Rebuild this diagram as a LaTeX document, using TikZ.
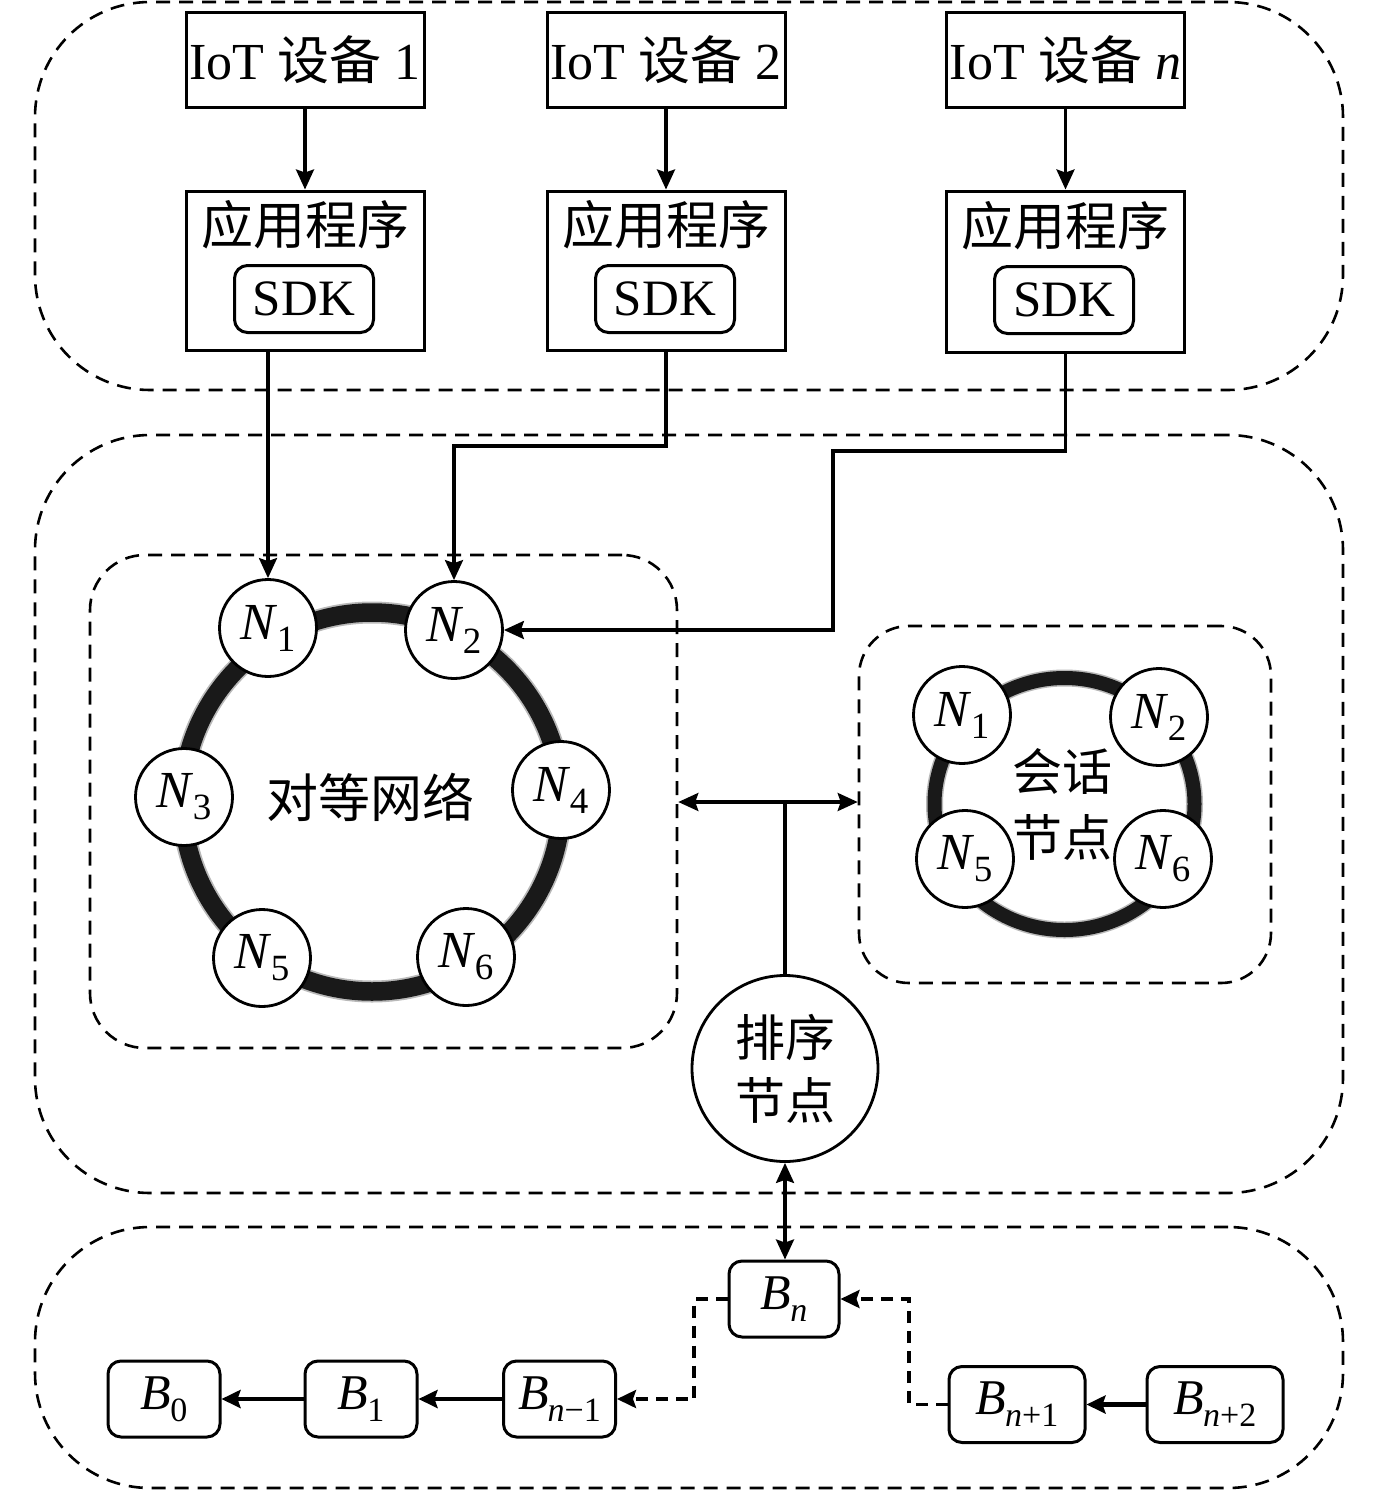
\documentclass[tikz,border=0pt]{standalone}
\usepackage{fontspec}
\setmainfont{Liberation Serif}
\newfontfamily\cjk{Noto Sans CJK SC}
\usetikzlibrary{arrows.meta}
\newcommand\zh[1]{{\cjk #1}}
\newcommand\subx[1]{\kern-1pt\raisebox{-12pt}{\fontsize{37}{37}\selectfont #1}}
\newcommand\subb[1]{\kern-1pt\raisebox{-12pt}{\fontsize{34}{34}\selectfont #1}}
\newcommand\Nx[1]{\textit{N}\subx{#1}}
\newcommand\Bx[1]{\textit{B}\subb{#1}}
\begin{document}
\begin{tikzpicture}[x=1pt,y=-1pt,
  font=\fontsize{52}{60}\selectfont,
  region/.style={draw, line width=2.6pt, dash pattern=on 14pt off 9pt, rounded corners=115pt, inner sep=0pt},
  subregion/.style={draw, line width=2.6pt, dash pattern=on 14pt off 9pt, inner sep=0pt},
  iotbox/.style={draw, line width=3pt, inner sep=0pt, minimum width=238pt, minimum height=95pt},
  appbox/.style={draw, line width=3pt, inner sep=0pt, minimum width=238pt, minimum height=159pt},
  sdkbox/.style={draw, line width=3pt, rounded corners=13pt, inner sep=0pt, minimum width=139pt, minimum height=67pt, font=\fontsize{51}{60}\selectfont},
  peer/.style={draw, line width=2.8pt, fill=white, circle, inner sep=0pt, minimum size=97pt},
  blk/.style={draw, line width=3pt, rounded corners=13pt, fill=white, inner sep=0pt, minimum height=76pt, font=\fontsize{50}{60}\selectfont},
  arr/.style={line width=3.2pt, -{Stealth[length=20pt,width=18pt,inset=3pt]}},
  darr/.style={line width=3.2pt, {Stealth[length=20pt,width=18pt,inset=3pt]}-{Stealth[length=20pt,width=18pt,inset=3pt]}},
  barr/.style={line width=4.5pt, -{Stealth[length=19pt,width=18pt,inset=3pt]}},
  dbarr/.style={line width=3.5pt, dash pattern=on 12pt off 8pt, -{Stealth[length=19pt,width=18pt,inset=3pt]}}
]
\useasboundingbox (0,0) rectangle (1378,1491);

% regions
\node[region, minimum width=1308pt, minimum height=388pt] (topreg) at (689,196) {};
\node[region, minimum width=1308pt, minimum height=758pt] (midreg) at (689,814) {};
\node[region, minimum width=1308pt, minimum height=261pt] (botreg) at (689,1357.5) {};
\node[subregion, rounded corners=55pt, minimum width=587pt, minimum height=493pt] (peerreg) at (383.5,801.5) {};
\node[subregion, rounded corners=50pt, minimum width=412pt, minimum height=357pt] (sessreg) at (1065,804.5) {};

% IoT devices
\node[iotbox] (iot1) at (305,59.5) {IoT \zh{设备} 1};
\node[iotbox] (iot2) at (666,59.5) {IoT \zh{设备} 2};
\node[iotbox] (iotn) at (1065.5,59.5) {IoT \zh{设备} \textit{n}};

% applications
\node[appbox] (app1) at (305,270.5) {};
\node[appbox] (app2) at (666,270.5) {};
\node[appbox, minimum height=161pt] (appn) at (1065.5,271.5) {};
\node (app1t) at (305,225) {\zh{应用程序}};
\node (app2t) at (666,225) {\zh{应用程序}};
\node (appnt) at (1065.5,226) {\zh{应用程序}};
\node[sdkbox] (sdk1) at (304,299) {SDK};
\node[sdkbox] (sdk2) at (665,299) {SDK};
\node[sdkbox] (sdkn) at (1064,300) {SDK};

\draw[arr] (iot1.south) -- (app1.north);
\draw[arr] (iot2.south) -- (app2.north);
\draw[arr] (iotn.south) -- (appn.north);

% peer ring
\draw[line width=22pt, gray!55] (372,802) circle[radius=189.5];
\draw[line width=18.5pt, black!90] (372,802) circle[radius=189.5];
\node (peerlabel) at (370,797) {\zh{对等网络}};
\node[peer] (n1) at (268,628) {\Nx{1}};
\node[peer] (n2) at (454,630) {\Nx{2}};
\node[peer] (n3) at (184,797) {\Nx{3}};
\node[peer] (n4) at (561,790) {\Nx{4}};
\node[peer] (n5) at (262,958) {\Nx{5}};
\node[peer] (n6) at (466,957) {\Nx{6}};

% session ring
\draw[line width=17pt, gray!55] (1064.5,804) ellipse[x radius=130, y radius=126];
\draw[line width=14pt, black!90] (1064.5,804) ellipse[x radius=130, y radius=126];
\node[align=center, font=\fontsize{50}{66}\selectfont\cjk] (sesslabel) at (1062,804) {会话\\节点};
\node[peer] (s1) at (962,715) {\Nx{1}};
\node[peer] (s2) at (1159,717) {\Nx{2}};
\node[peer] (s5) at (965,859) {\Nx{5}};
\node[peer] (s6) at (1163,859) {\Nx{6}};

% orderer
\node[draw, line width=2.8pt, circle, minimum size=186pt, inner sep=0pt, align=center, font=\fontsize{50}{63}\selectfont\cjk] (order) at (785,1068.5) {排序\\节点};

% app -> peers
\coordinate (c2a) at (666,446);
\coordinate (c2b) at (454,446);
\coordinate (cna) at (1065.5,451);
\coordinate (cnb) at (833,451);
\draw[arr] (app1.south -| n1.north) -- (n1.north);
\draw[arr] (app2.south) -- (c2a) -- (c2b) -- (n2.north);
\draw[arr] (appn.south) -- (cna) -- (cnb) |- (n2.east);

% orderer connections
\coordinate (tj) at (785,802);
\draw[darr] (peerreg.east |- tj) -- (sessreg.west |- tj);
\draw[line width=3.2pt] (tj) -- (order.north);

% blocks
\node[blk, minimum width=110pt] (bn) at (784,1299) {\Bx{\textit{n}}};
\node[blk, minimum width=112pt] (b0) at (164,1399) {\Bx{0}};
\node[blk, minimum width=112pt] (b1) at (361,1399) {\Bx{1}};
\node[blk, minimum width=112pt] (bm1) at (559.5,1399) {\Bx{\textit{n}−1}};
\node[blk, minimum width=136pt] (bp1) at (1017,1404.5) {\Bx{\textit{n}+1}};
\node[blk, minimum width=136pt] (bp2) at (1215,1404.5) {\Bx{\textit{n}+2}};

\draw[darr] (order.south) -- (order.south |- bn.north);

\draw[barr] (b1.west) -- (b0.east);
\draw[barr] (bm1.west) -- (b1.east);
\draw[barr] (bp2.west) -- (bp1.east);

\coordinate (dl) at (694,1299);
\coordinate (dr) at (909,1404.5);
\draw[dbarr] (bn.west) -- (dl) |- (bm1.east);
\draw[dbarr] (bp1.west) -- (dr) |- (bn.east);
\end{tikzpicture}
\end{document}
